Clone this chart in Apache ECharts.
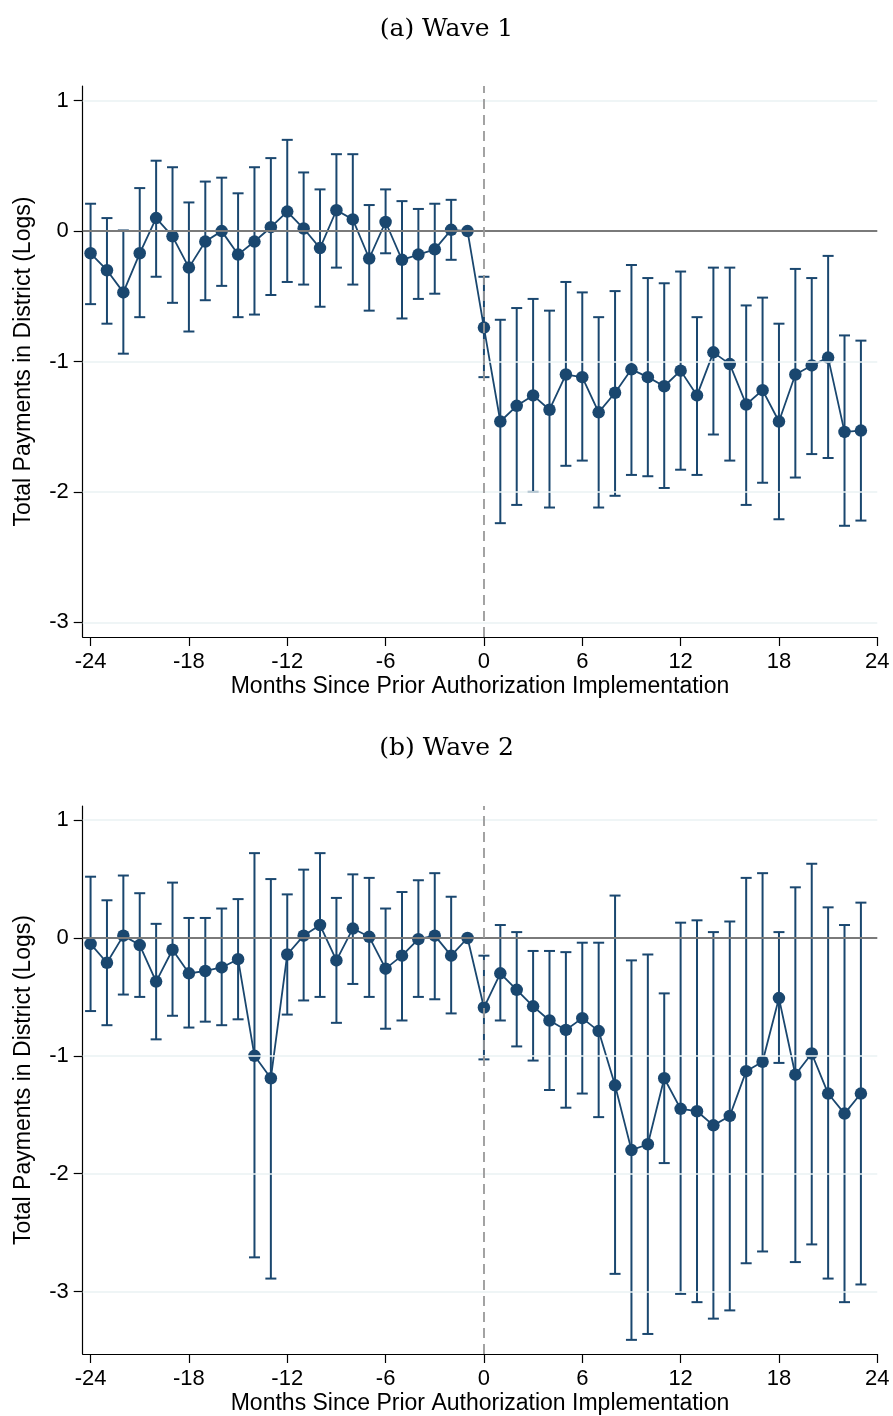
<!DOCTYPE html>
<html>
<head>
<meta charset="utf-8">
<script src="https://cdn.jsdelivr.net/npm/echarts@6/dist/echarts.min.js"></script>
<style>html,body{margin:0;padding:0;background:#fff}#c{width:893px;height:1416px}</style>
</head>
<body>
<div id="c"></div>
<script>
const months = [-24,-23,-22,-21,-20,-19,-18,-17,-16,-15,-14,-13,-12,-11,-10,-9,-8,-7,-6,-5,-4,-3,-2,-1,0,1,2,3,4,5,6,7,8,9,10,11,12,13,14,15,16,17,18,19,20,21,22,23];
const xTicks = [-24,-18,-12,-6,0,6,12,18,24];
const yTicks = [-3,-2,-1,0,1];
const titles = ['(a) Wave 1','(b) Wave 2'];
const xTitle = 'Months Since Prior Authorization Implementation';
const yTitle = 'Total Payments in District (Logs)';

const wave1Coef = [-0.17,-0.30,-0.47,-0.17,0.10,-0.04,-0.28,-0.08,0.00,-0.18,-0.08,0.03,0.15,0.02,-0.13,0.16,0.09,-0.21,0.07,-0.22,-0.18,-0.14,0.01,0.00,-0.74,-1.46,-1.34,-1.26,-1.37,-1.10,-1.12,-1.39,-1.24,-1.06,-1.12,-1.19,-1.07,-1.26,-0.93,-1.02,-1.33,-1.22,-1.46,-1.10,-1.03,-0.97,-1.54,-1.53];
const wave1Hi = [0.21,0.10,0.005,0.33,0.54,0.49,0.22,0.38,0.41,0.29,0.49,0.56,0.70,0.45,0.32,0.59,0.59,0.20,0.32,0.23,0.17,0.21,0.24,null,-0.35,-0.68,-0.59,-0.52,-0.61,-0.39,-0.47,-0.66,-0.46,-0.26,-0.36,-0.40,-0.31,-0.66,-0.28,-0.28,-0.57,-0.51,-0.71,-0.29,-0.36,-0.19,-0.80,-0.84];
const wave1Lo = [-0.56,-0.71,-0.94,-0.66,-0.35,-0.55,-0.77,-0.53,-0.42,-0.66,-0.64,-0.49,-0.39,-0.41,-0.58,-0.28,-0.41,-0.61,-0.17,-0.67,-0.52,-0.48,-0.22,null,-1.12,-2.24,-2.10,-2.00,-2.12,-1.80,-1.76,-2.12,-2.03,-1.87,-1.88,-1.97,-1.83,-1.87,-1.56,-1.76,-2.10,-1.93,-2.21,-1.89,-1.71,-1.74,-2.26,-2.22];

const wave2Coef = [-0.05,-0.21,0.02,-0.06,-0.37,-0.10,-0.30,-0.28,-0.25,-0.18,-1.00,-1.19,-0.14,0.02,0.11,-0.19,0.08,0.01,-0.26,-0.15,-0.01,0.02,-0.15,0.00,-0.59,-0.30,-0.44,-0.58,-0.70,-0.78,-0.68,-0.79,-1.25,-1.80,-1.75,-1.19,-1.45,-1.47,-1.59,-1.51,-1.13,-1.05,-0.51,-1.16,-0.98,-1.32,-1.49,-1.32];
const wave2Hi = [0.52,0.32,0.53,0.38,0.12,0.47,0.17,0.17,0.25,0.33,0.72,0.50,0.37,0.58,0.72,0.34,0.54,0.51,0.25,0.39,0.49,0.55,0.35,null,-0.15,0.11,0.05,-0.11,-0.11,-0.12,-0.04,-0.04,0.36,-0.19,-0.14,-0.47,0.13,0.15,0.05,0.14,0.51,0.55,0.05,0.43,0.63,0.26,0.11,0.30];
const wave2Lo = [-0.62,-0.74,-0.48,-0.50,-0.86,-0.66,-0.76,-0.71,-0.74,-0.69,-2.71,-2.89,-0.65,-0.53,-0.50,-0.72,-0.39,-0.50,-0.77,-0.70,-0.50,-0.52,-0.64,null,-1.03,-0.70,-0.92,-1.04,-1.29,-1.44,-1.32,-1.52,-2.85,-3.41,-3.36,-1.91,-3.02,-3.09,-3.23,-3.16,-2.76,-2.66,-1.06,-2.75,-2.60,-2.89,-3.09,-2.94];

const NAVY = '#1a476f';
const FONT = '"Liberation Sans", Arial, sans-serif';
const panels = [
  {coef: wave1Coef, lo: wave1Lo, hi: wave1Hi, top: 86, height: 551, ymin: -3.113, ymax: 1.113},
  {coef: wave2Coef, lo: wave2Lo, hi: wave2Hi, top: 806, height: 551, ymin: -3.53, ymax: 1.12}
];

function errRender(params, api) {
  const x = api.value(0), lo = api.value(1), hi = api.value(2);
  const a = api.coord([x, hi]), b = api.coord([x, lo]);
  const w = 5.5;
  const st = {stroke: NAVY, lineWidth: 2};
  return {type: 'group', children: [
    {type: 'line', shape: {x1: a[0], y1: a[1], x2: b[0], y2: b[1]}, style: st},
    {type: 'line', shape: {x1: a[0] - w, y1: a[1], x2: a[0] + w, y2: a[1]}, style: st},
    {type: 'line', shape: {x1: b[0] - w, y1: b[1], x2: b[0] + w, y2: b[1]}, style: st}
  ]};
}

const grid = [], xAxis = [], yAxis = [], series = [], title = [];
panels.forEach((p, i) => {
  grid.push({left: 82.7, right: 15.7, top: p.top, height: p.height});
  title.push({text: titles[i], left: 'center', top: i === 0 ? 12 : 731,
    textStyle: {fontFamily: '"DejaVu Serif", serif', fontWeight: 'normal', fontSize: 25, color: '#000'}});
  xAxis.push({type: 'value', gridIndex: i, min: -24.48, max: 24,
    name: xTitle, nameLocation: 'middle', nameGap: 38,
    nameTextStyle: {fontFamily: FONT, fontSize: 23, color: '#000'},
    axisLine: {show: true, onZero: false, lineStyle: {color: '#000', width: 1.2}},
    axisTick: {show: true, length: 9, customValues: xTicks, lineStyle: {color: '#000', width: 1.2}},
    axisLabel: {customValues: xTicks, margin: 14, fontFamily: FONT, fontSize: 22, color: '#000'},
    splitLine: {show: false}});
  yAxis.push({type: 'value', gridIndex: i, min: p.ymin, max: p.ymax,
    name: yTitle, nameLocation: 'middle', nameGap: 48,
    nameTextStyle: {fontFamily: FONT, fontSize: 23, color: '#000'},
    axisLine: {show: true, onZero: false, lineStyle: {color: '#000', width: 1.2}},
    axisTick: {show: true, length: 9, customValues: yTicks, lineStyle: {color: '#000', width: 1.2}},
    axisLabel: {customValues: yTicks, margin: 14, fontFamily: FONT, fontSize: 22, color: '#000'},
    splitLine: {show: false}});
  const errData = [];
  months.forEach((m, k) => { if (p.lo[k] !== null && p.hi[k] !== null) errData.push([m, p.lo[k], p.hi[k]]); });
  series.push({type: 'line', xAxisIndex: i, yAxisIndex: i, data: [], z: 1, silent: true,
    markLine: {silent: true, symbol: 'none', label: {show: false}, animation: false,
      data: yTicks.filter(v => v !== 0).map(v => ({yAxis: v, lineStyle: {color: '#eaf2f3', width: 1.5, type: 'solid'}}))
        .concat([
          {yAxis: 0, lineStyle: {color: '#7a7a7a', width: 1.8, type: 'solid'}},
          {xAxis: 0, lineStyle: {color: '#999999', width: 1.8, type: [10, 6]}}
        ])}});
  series.push({type: 'custom', xAxisIndex: i, yAxisIndex: i, z: 3, silent: true,
    renderItem: errRender, encode: {x: 0, y: [1, 2]}, data: errData});
  series.push({type: 'line', xAxisIndex: i, yAxisIndex: i, z: 4, silent: true,
    data: months.map((m, k) => [m, p.coef[k]]),
    symbol: 'circle', symbolSize: 12.5, showSymbol: true,
    lineStyle: {color: NAVY, width: 1.8}, itemStyle: {color: NAVY}});
});

const chart = echarts.init(document.getElementById('c'), null, {renderer: 'canvas'});
chart.setOption({animation: false, backgroundColor: '#fff', title, grid, xAxis, yAxis, series});
</script>
</body>
</html>
